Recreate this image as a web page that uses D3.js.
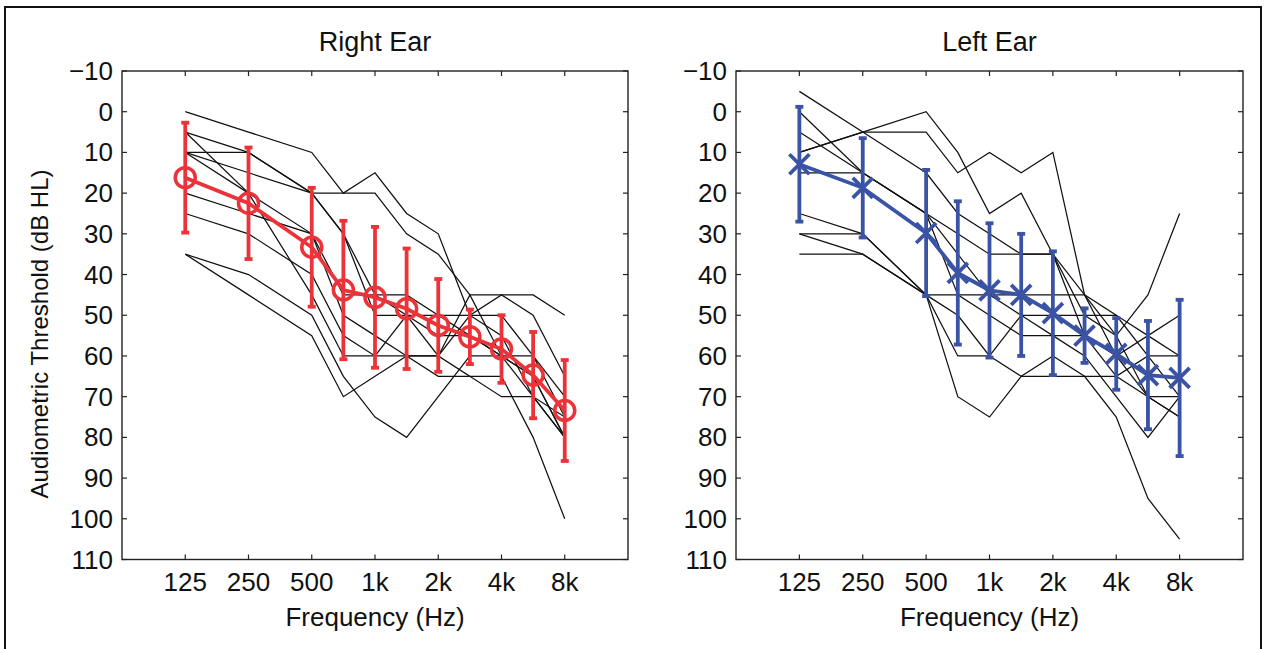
<!DOCTYPE html>
<html>
<head>
<meta charset="utf-8">
<script src="https://cdn.jsdelivr.net/npm/d3@7"></script>
<style>
  body { margin: 0; background: #fff; }
  text { font-family: "Liberation Sans", Arial, sans-serif; fill: #111; }
</style>
</head>
<body>
<svg id="chart" width="1265" height="649"></svg>
<script>
// audiometric frequencies and where they sit on the index axis
const freqs = ['125', '250', '500', '750', '1k', '1.5k', '2k', '3k', '4k', '6k', '8k'];
const freqIndex = [1, 2, 3, 3.5, 4, 4.5, 5, 5.5, 6, 6.5, 7];
const tickLabels = ['125', '250', '500', '1k', '2k', '4k', '8k'];
const tickIndex = [1, 2, 3, 4, 5, 6, 7];
const yTicks = [-10, 0, 10, 20, 30, 40, 50, 60, 70, 80, 90, 100, 110];

// group means and spread (dB HL)
const rightMean = [16.2, 22.5, 33.3, 43.8, 45.6, 48.4, 52.5, 55.3, 58.3, 64.7, 73.4];
const rightSd   = [13.5, 13.7, 14.6, 17.0, 17.3, 14.8, 11.4, 6.7, 8.3, 10.6, 12.4];
const leftMean  = [12.9, 18.7, 29.8, 39.6, 43.9, 45.0, 49.5, 55.0, 59.5, 64.7, 65.4];
const leftSd    = [14.1, 12.2, 15.5, 17.6, 16.5, 15.0, 15.2, 6.7, 8.8, 13.3, 19.2];

// individual audiograms
const rightSubjects = [
  [0, 5, 10, 20, 15, 25, 30, 50, 45, 45, 50],
  [5, 10, 20, 20, 20, 30, 35, 45, 45, 50, 65],
  [10, 10, 20, 30, 45, 45, 50, 55, 60, 65, 80],
  [10, 15, 20, 30, 50, 50, 50, 50, 50, 60, 70],
  [10, 20, 30, 45, 45, 50, 55, 55, 60, 70, 80],
  [20, 25, 30, 50, 55, 60, 60, 45, 60, 60, 75],
  [25, 30, 40, 55, 60, 60, 60, 65, 65, 80, 100],
  [35, 40, 50, 65, 75, 80, 70, 60, 60, 65, 80],
  [35, 45, 55, 70, 65, 60, 65, 65, 70, 70, 80],
  [5, 20, 45, 60, 60, 50, 60, 50, 55, 70, 75]
];
const leftSubjects = [
  [10, 5, 0, 10, 25, 20, 35, 50, 55, 70, 75],
  [10, 5, 5, 15, 10, 15, 10, 45, 55, 45, 25],
  [-5, 5, 15, 25, 30, 35, 35, 45, 50, 60, 70],
  [0, 15, 25, 35, 45, 50, 50, 50, 50, 55, 60],
  [5, 15, 25, 45, 50, 55, 55, 55, 60, 55, 50],
  [15, 15, 25, 30, 35, 35, 35, 55, 65, 70, 75],
  [25, 30, 45, 50, 60, 65, 60, 65, 75, 95, 105],
  [30, 30, 45, 60, 60, 50, 55, 60, 70, 80, 70],
  [35, 35, 45, 70, 75, 65, 65, 65, 65, 60, 60],
  [30, 35, 45, 45, 45, 45, 45, 45, 60, 70, 70]
];

const svg = d3.select('#chart');

svg.append('rect')
  .attr('x', 5).attr('y', 7)
  .attr('width', 1256).attr('height', 660)
  .attr('fill', 'none')
  .attr('stroke', '#111')
  .attr('stroke-width', 2);

function drawPanel(opts)
{
  var x = d3.scaleLinear().domain([0, 8]).range([opts.left, opts.right]);
  var y = d3.scaleLinear().domain([-10, 110]).range([71, 559.5]);
  var g = svg.append('g');
  var tick = 5;

  // axis box
  g.append('rect')
    .attr('x', x(0)).attr('y', y(-10))
    .attr('width', x(8) - x(0)).attr('height', y(110) - y(-10))
    .attr('fill', 'none').attr('stroke', '#222').attr('stroke-width', 1.4);

  tickIndex.forEach(t => {
    g.append('line').attr('x1', x(t)).attr('x2', x(t))
      .attr('y1', y(110)).attr('y2', y(110) - tick)
      .attr('stroke', '#222').attr('stroke-width', 1.2);
    g.append('line').attr('x1', x(t)).attr('x2', x(t))
      .attr('y1', y(-10)).attr('y2', y(-10) + tick)
      .attr('stroke', '#222').attr('stroke-width', 1.2);
  });
  yTicks.forEach(t => {
    g.append('line').attr('x1', x(0)).attr('x2', x(0) + tick)
      .attr('y1', y(t)).attr('y2', y(t))
      .attr('stroke', '#222').attr('stroke-width', 1.2);
    g.append('line').attr('x1', x(8)).attr('x2', x(8) - tick)
      .attr('y1', y(t)).attr('y2', y(t))
      .attr('stroke', '#222').attr('stroke-width', 1.2);
  });

  g.selectAll('.ylab').data(yTicks).enter().append('text')
    .attr('x', x(0) - 9).attr('y', d => y(d) + 9)
    .attr('text-anchor', 'end').attr('font-size', 26)
    .text(d => d < 0 ? '\u2212' + Math.abs(d) : d);

  g.selectAll('.xlab').data(tickIndex).enter().append('text')
    .attr('x', d => x(d)).attr('y', 591)
    .attr('text-anchor', 'middle').attr('font-size', 26)
    .text((d, i) => tickLabels[i]);

  g.append('text')
    .attr('x', (x(0) + x(8)) / 2).attr('y', 626)
    .attr('text-anchor', 'middle').attr('font-size', 26)
    .text('Frequency (Hz)');

  g.append('text')
    .attr('x', (x(0) + x(8)) / 2).attr('y', 51)
    .attr('text-anchor', 'middle').attr('font-size', 27)
    .text(opts.title);

  // individual subjects
  var line = d3.line().x((d, i) => x(freqIndex[i])).y(d => y(d));
  opts.subjects.forEach(s => {
    g.append('path').datum(s)
      .attr('d', line)
      .attr('fill', 'none').attr('stroke', '#111').attr('stroke-width', 1.25);
  });

  // mean + error bars
  g.append('path').datum(opts.mean)
    .attr('d', line)
    .attr('fill', 'none').attr('stroke', opts.color).attr('stroke-width', 3.8);

  opts.mean.forEach((m, i) => {
    var cx = x(freqIndex[i]);
    var lo = y(m - opts.sd[i]), hi = y(m + opts.sd[i]);
    g.append('line').attr('x1', cx).attr('x2', cx).attr('y1', lo).attr('y2', hi)
      .attr('stroke', opts.color).attr('stroke-width', 3.8);
    [lo, hi].forEach(v => {
      g.append('line').attr('x1', cx - 4).attr('x2', cx + 4).attr('y1', v).attr('y2', v)
        .attr('stroke', opts.color).attr('stroke-width', 3.8);
    });
    if (opts.marker == 'circle')
    {
      g.append('circle').attr('cx', cx).attr('cy', y(m)).attr('r', 10)
        .attr('fill', 'none').attr('stroke', opts.color).attr('stroke-width', 3.5);
    }
    else
    {
      var s = 10;
      g.append('path')
        .attr('d', 'M' + (cx - s) + ',' + (y(m) - s) + 'L' + (cx + s) + ',' + (y(m) + s) +
                   'M' + (cx - s) + ',' + (y(m) + s) + 'L' + (cx + s) + ',' + (y(m) - s))
        .attr('stroke', opts.color).attr('stroke-width', 3.8);
    }
  });

  return {x: x, y: y};
}

var leftAx = drawPanel({left: 122, right: 628, title: 'Right Ear', subjects: rightSubjects,
  mean: rightMean, sd: rightSd, color: '#ec3339', marker: 'circle'});
drawPanel({left: 736, right: 1243, title: 'Left Ear', subjects: leftSubjects,
  mean: leftMean, sd: leftSd, color: '#3a53a4', marker: 'x'});

svg.append('text')
  .attr('transform', 'translate(48,334) rotate(-90)')
  .attr('text-anchor', 'middle').attr('font-size', 24)
  .text('Audiometric Threshold (dB HL)');
</script>
</body>
</html>
